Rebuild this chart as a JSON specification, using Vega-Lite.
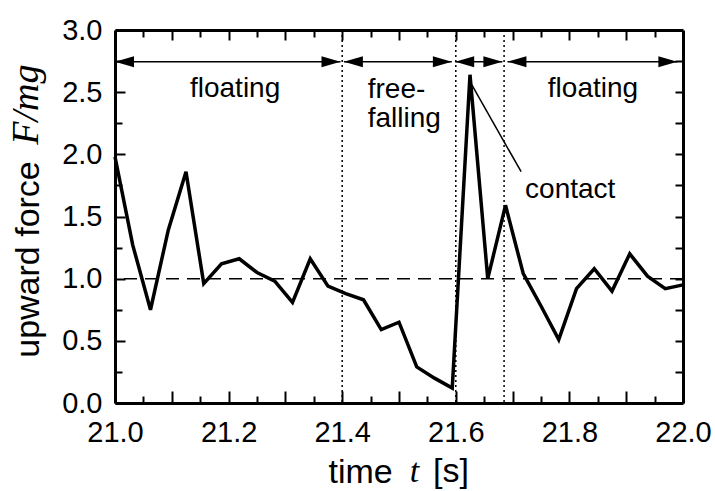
{
  "$schema": "https://vega.github.io/schema/vega-lite/v6.json",
  "width": 568,
  "height": 373,
  "autosize": {"type": "none"},
  "padding": {"left": 115, "top": 30, "right": 32, "bottom": 88},
  "background": "white",
  "config": {"view": {"stroke": null}, "font": "Liberation Sans", "axis": {"ticks": true, "tickOpacity": 1, "zindex": 2}},
  "datasets": {
    "force": [
      {"t": 21.0, "F": 1.98}, {"t": 21.03125, "F": 1.27}, {"t": 21.0625, "F": 0.75}, {"t": 21.09375, "F": 1.39},
      {"t": 21.125, "F": 1.86}, {"t": 21.15625, "F": 0.96}, {"t": 21.1875, "F": 1.12}, {"t": 21.21875, "F": 1.16},
      {"t": 21.25, "F": 1.05}, {"t": 21.28125, "F": 0.98}, {"t": 21.3125, "F": 0.81}, {"t": 21.34375, "F": 1.16},
      {"t": 21.375, "F": 0.94}, {"t": 21.40625, "F": 0.88}, {"t": 21.4375, "F": 0.83}, {"t": 21.46875, "F": 0.59},
      {"t": 21.5, "F": 0.65}, {"t": 21.53125, "F": 0.29}, {"t": 21.5625, "F": 0.2}, {"t": 21.59375, "F": 0.12},
      {"t": 21.625, "F": 2.64}, {"t": 21.65625, "F": 1.0}, {"t": 21.6875, "F": 1.59}, {"t": 21.71875, "F": 1.04},
      {"t": 21.75, "F": 0.78}, {"t": 21.78125, "F": 0.51}, {"t": 21.8125, "F": 0.92}, {"t": 21.84375, "F": 1.08},
      {"t": 21.875, "F": 0.9}, {"t": 21.90625, "F": 1.2}, {"t": 21.9375, "F": 1.02}, {"t": 21.96875, "F": 0.92},
      {"t": 22.0, "F": 0.95}
    ],
    "boundaries": [{"t": 21.4}, {"t": 21.6}, {"t": 21.685}],
    "phases": [
      {"start": 21.0, "end": 21.397},
      {"start": 21.403, "end": 21.593},
      {"start": 21.599, "end": 21.682},
      {"start": 21.691, "end": 21.99}
    ],
    "labels": [
      {"t": 21.132, "F": 2.46, "label": "floating"},
      {"t": 21.445, "F": 2.45, "label": "free-"},
      {"t": 21.445, "F": 2.22, "label": "falling"},
      {"t": 21.762, "F": 2.46, "label": "floating"},
      {"t": 21.722, "F": 1.65, "label": "contact"}
    ]
  },
  "resolve": {"axis": {"x": "independent", "y": "independent"}},
  "layer": [
    {
      "data": {"values": [{}]},
      "mark": {"type": "rule", "strokeDash": [13, 8], "strokeWidth": 1.5, "color": "black"},
      "encoding": {
        "y": {
          "datum": 1, "type": "quantitative",
          "scale": {"domain": [0, 3], "nice": false, "zero": false},
          "axis": {
            "orient": "right", "values": [0.25, 0.5, 0.75, 1, 1.25, 1.5, 1.75, 2, 2.25, 2.5, 2.75],
            "labels": false, "title": null, "grid": false,
            "domain": true, "domainColor": "black", "domainWidth": 3,
            "ticks": true, "tickColor": "black", "tickWidth": 2, "tickSize": -8
          }
        }
      }
    },
    {
      "data": {"name": "boundaries"},
      "mark": {"type": "rule", "strokeDash": [2, 3], "strokeWidth": 1.5, "color": "black"},
      "encoding": {
        "x": {
          "field": "t", "type": "quantitative",
          "scale": {"domain": [21, 22], "nice": false, "zero": false},
          "axis": {
            "orient": "top",
            "values": [21.1, 21.2, 21.3, 21.4, 21.5, 21.6, 21.7, 21.8, 21.9],
            "labels": false, "title": null, "grid": false,
            "domain": true, "domainColor": "black", "domainWidth": 3,
            "ticks": true, "tickColor": "black", "tickWidth": 2, "tickSize": -10
          }
        }
      }
    },
    {
      "data": {"name": "force"},
      "mark": {"type": "line", "color": "black", "strokeWidth": 3.5, "strokeJoin": "miter"},
      "encoding": {
        "x": {
          "field": "t", "type": "quantitative",
          "scale": {"domain": [21, 22], "nice": false, "zero": false},
          "axis": {
            "orient": "bottom",
            "values": [21, 21.1, 21.2, 21.3, 21.4, 21.5, 21.6, 21.7, 21.8, 21.9, 22],
            "labelExpr": "abs(datum.value*5-round(datum.value*5))<0.001 ? format(datum.value,'.1f') : ''",
            "labelFlush": false, "labelOverlap": false, "labelBound": false,
            "labelFont": "Liberation Sans", "labelFontSize": 29, "labelColor": "black", "labelPadding": 27,
            "domain": true, "domainColor": "black", "domainWidth": 3, "grid": false,
            "ticks": true, "tickColor": "black", "tickWidth": 2, "tickSize": -12,
            "title": "time", "titleFont": "Liberation Sans", "titleFontSize": 34, "titleFontWeight": "normal",
            "titleColor": "black", "titleAlign": "left", "titleBaseline": "alphabetic", "titleX": 213, "titleY": 79
          }
        },
        "y": {
          "field": "F", "type": "quantitative",
          "scale": {"domain": [0, 3], "nice": false, "zero": false},
          "axis": {
            "orient": "left",
            "values": [0, 0.5, 1, 1.5, 2, 2.5, 3],
            "labelExpr": "format(datum.value,'.1f')",
            "labelOverlap": false, "labelBound": false, "labelFlush": false,
            "labelFont": "Liberation Sans", "labelFontSize": 29, "labelColor": "black", "labelPadding": 23,
            "domain": true, "domainColor": "black", "domainWidth": 3, "grid": false,
            "ticks": true, "tickColor": "black", "tickWidth": 2, "tickSize": -10,
            "title": "upward force", "titleFont": "Liberation Sans", "titleFontSize": 34, "titleFontWeight": "normal",
            "titleColor": "black", "titleAlign": "center", "titleBaseline": "alphabetic", "titleAngle": -90,
            "titleX": -77, "titleY": 229
          }
        }
      }
    },
    {
      "data": {"name": "phases"},
      "mark": {"type": "rule", "strokeWidth": 1.5, "color": "black"},
      "encoding": {
        "x": {
          "field": "start", "type": "quantitative", "scale": {"domain": [21, 22], "nice": false, "zero": false},
          "axis": {
            "orient": "bottom",
            "values": [21.05, 21.15, 21.25, 21.35, 21.45, 21.55, 21.65, 21.75, 21.85, 21.95],
            "labels": false, "title": null, "domain": false, "grid": false,
            "ticks": true, "tickColor": "black", "tickWidth": 2, "tickSize": -7
          }
        },
        "x2": {"field": "end"},
        "y": {
          "datum": 2.745, "type": "quantitative", "scale": {"domain": [0, 3], "nice": false, "zero": false},
          "axis": {
            "orient": "left",
            "values": [0.25, 0.75, 1.25, 1.75, 2.25, 2.75],
            "labels": false, "title": null, "domain": false, "grid": false,
            "ticks": true, "tickColor": "black", "tickWidth": 2, "tickSize": -7
          }
        }
      }
    },
    {
      "data": {"name": "phases"},
      "mark": {"type": "point", "shape": "M0,0L4,-1.15L4,1.15Z", "size": 90, "filled": true, "color": "black", "opacity": 1, "strokeWidth": 0},
      "encoding": {
        "x": {
          "field": "start", "type": "quantitative", "scale": {"domain": [21, 22], "nice": false, "zero": false},
          "axis": {
            "orient": "top",
            "values": [21.05, 21.15, 21.25, 21.35, 21.45, 21.55, 21.65, 21.75, 21.85, 21.95],
            "labels": false, "title": null, "domain": false, "grid": false,
            "ticks": true, "tickColor": "black", "tickWidth": 2, "tickSize": -7
          }
        },
        "y": {"datum": 2.745, "type": "quantitative", "scale": {"domain": [0, 3], "nice": false, "zero": false}, "axis": null}
      }
    },
    {
      "data": {"name": "phases"},
      "mark": {"type": "point", "shape": "M0,0L-4,-1.15L-4,1.15Z", "size": 90, "filled": true, "color": "black", "opacity": 1, "strokeWidth": 0},
      "encoding": {
        "x": {"field": "end", "type": "quantitative", "scale": {"domain": [21, 22], "nice": false, "zero": false}, "axis": null},
        "y": {"datum": 2.745, "type": "quantitative", "scale": {"domain": [0, 3], "nice": false, "zero": false}, "axis": null}
      }
    },
    {
      "data": {"name": "labels"},
      "mark": {"type": "text", "align": "left", "baseline": "alphabetic", "font": "Liberation Sans", "fontSize": 28, "color": "black"},
      "encoding": {
        "x": {"field": "t", "type": "quantitative", "scale": {"domain": [21, 22], "nice": false, "zero": false}, "axis": null},
        "y": {"field": "F", "type": "quantitative", "scale": {"domain": [0, 3], "nice": false, "zero": false}, "axis": null},
        "text": {"field": "label"}
      }
    },
    {
      "data": {"values": [{}]},
      "mark": {"type": "rule", "strokeWidth": 1.5, "color": "black"},
      "encoding": {
        "x": {"datum": 21.628, "type": "quantitative", "scale": {"domain": [21, 22], "nice": false, "zero": false}, "axis": null},
        "y": {"datum": 2.56, "type": "quantitative", "scale": {"domain": [0, 3], "nice": false, "zero": false}, "axis": null},
        "x2": {"datum": 21.715},
        "y2": {"datum": 1.86}
      }
    },
    {
      "data": {"values": [{}]},
      "mark": {"type": "text", "text": "t", "align": "left", "baseline": "alphabetic", "font": "Liberation Serif", "fontStyle": "italic", "fontSize": 34, "color": "black"},
      "encoding": {
        "x": {"datum": 21.519, "type": "quantitative", "scale": {"domain": [21, 22], "nice": false, "zero": false}, "axis": null},
        "y": {"datum": -0.635, "type": "quantitative", "scale": {"domain": [0, 3], "nice": false, "zero": false}, "axis": null}
      }
    },
    {
      "data": {"values": [{}]},
      "mark": {"type": "text", "text": "[s]", "align": "left", "baseline": "alphabetic", "font": "Liberation Sans", "fontSize": 34, "color": "black"},
      "encoding": {
        "x": {"datum": 21.56, "type": "quantitative", "scale": {"domain": [21, 22], "nice": false, "zero": false}, "axis": null},
        "y": {"datum": -0.635, "type": "quantitative", "scale": {"domain": [0, 3], "nice": false, "zero": false}, "axis": null}
      }
    },
    {
      "data": {"values": [{}]},
      "mark": {"type": "text", "text": "F/mg", "align": "center", "baseline": "alphabetic", "angle": 270, "font": "Liberation Serif", "fontStyle": "italic", "fontSize": 38, "color": "black"},
      "encoding": {
        "x": {"datum": 20.8644, "type": "quantitative", "scale": {"domain": [21, 22], "nice": false, "zero": false}, "axis": null},
        "y": {"datum": 2.4, "type": "quantitative", "scale": {"domain": [0, 3], "nice": false, "zero": false}, "axis": null}
      }
    }
  ]
}
